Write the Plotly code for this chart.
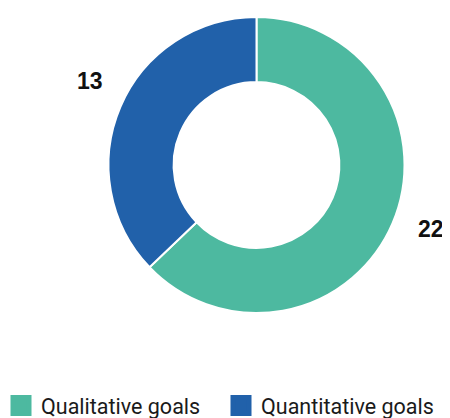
import plotly.graph_objects as go

categories = ["Qualitative goals", "Quantitative goals"]
values = [22, 13]
colors = ["#4DB9A0", "#2161AA"]

W, H = 450, 418
OFF = 8  # page body margin offset
M_T, M_B = 17 - OFF, H - (313 - OFF)
CX, R = 256.5 - OFF, 148
# label anchor positions in pixels (layout, not data)
LABEL_PX = [(431 - OFF, 229 - OFF), (90 - OFF, 81 - OFF)]
LEGEND_TOP_PX = 377

plot_h = H - M_T - M_B

fig = go.Figure()
fig.add_trace(go.Pie(
    labels=categories, values=values, hole=0.56, sort=False,
    direction="clockwise", rotation=0,
    marker=dict(colors=colors, line=dict(color="white", width=2)),
    textinfo="none", hoverinfo="label+value", showlegend=False,
    domain=dict(x=[(CX - R) / W, (CX + R) / W], y=[0, 1]),
))

for name, col in zip(categories, colors):
    fig.add_trace(go.Scatter(
        x=[None], y=[None], mode="markers", name=name,
        marker=dict(symbol="square", size=16, color=col,
                    line=dict(color=col, width=6)),
        showlegend=True,
    ))

for v, (px, py) in zip(values, LABEL_PX):
    fig.add_annotation(
        x=px / W, y=(H - M_B - py) / plot_h, xref="paper", yref="paper",
        text=str(v), showarrow=False, xanchor="center", yanchor="middle",
        font=dict(family="Liberation Sans, Arial", size=23, color="#111111",
                  weight=700),
    )

fig.update_layout(
    width=W, height=H,
    margin=dict(l=0, r=0, t=M_T, b=M_B, autoexpand=False),
    paper_bgcolor="white", plot_bgcolor="white",
    xaxis=dict(visible=False), yaxis=dict(visible=False),
    showlegend=True,
    legend=dict(
        orientation="h", x=-7 / W, xanchor="left",
        y=(H - M_B - LEGEND_TOP_PX) / plot_h, yanchor="top",
        font=dict(family="Roboto", size=21.5, color="#1a1a1a"),
        itemsizing="trace", entrywidth=175,
    ),
)

fig.write_html("out.html")
